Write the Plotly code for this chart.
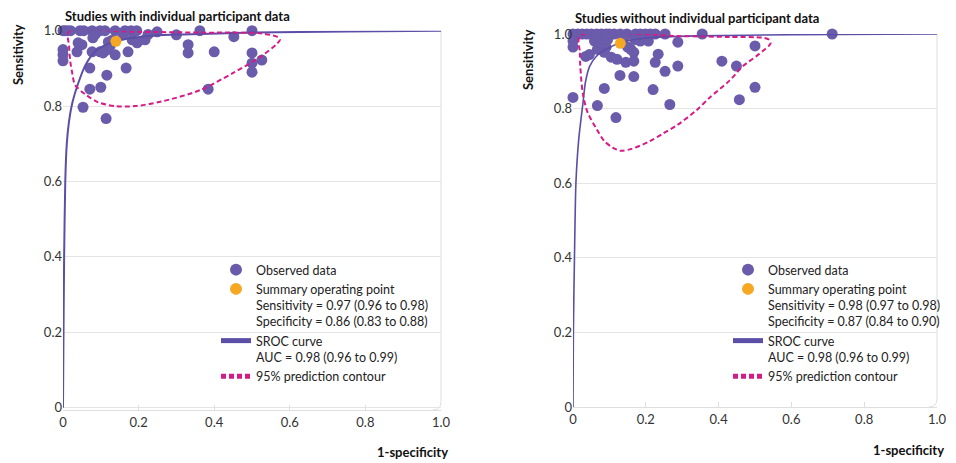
import plotly.graph_objects as go

# ---------------- data ----------------
# Left panel: studies with individual participant data (1-specificity, sensitivity)
left_fpr = [0.000, 0.005, 0.012, 0.045, 0.055, 0.077, 0.098, 0.111, 0.138, 0.164, 0.180, 0.195,
            0.249, 0.362, 0.500, 0.300, 0.452, 0.000, 0.000, 0.000, 0.040, 0.050, 0.037, 0.079,
            0.077, 0.098, 0.106, 0.116, 0.125, 0.138, 0.159, 0.172, 0.183, 0.196, 0.217, 0.331,
            0.331, 0.400, 0.500, 0.500, 0.500, 0.526, 0.071, 0.116, 0.167, 0.071, 0.100, 0.384,
            0.053, 0.114, 0.085, 0.130, 0.120, 0.225, 0.020]
left_sens = [1.000, 1.000, 1.000, 1.000, 1.000, 1.000, 1.000, 1.000, 1.000, 1.000, 1.000, 1.000,
             0.997, 1.000, 1.000, 0.989, 0.984, 0.950, 0.936, 0.920, 0.968, 0.963, 0.944, 0.981,
             0.944, 0.944, 0.941, 0.949, 0.960, 0.936, 0.989, 0.944, 0.976, 0.968, 0.976, 0.963,
             0.941, 0.944, 0.941, 0.914, 0.890, 0.922, 0.901, 0.882, 0.901, 0.845, 0.850, 0.845,
             0.797, 0.767, 0.990, 0.975, 0.970, 0.990, 1.000]

# Right panel: studies without individual participant data
right_fpr = [0.000, 0.013, 0.025, 0.038, 0.050, 0.065, 0.078, 0.091, 0.113, 0.148, 0.172, 0.185,
             0.199, 0.212, 0.226, 0.253, 0.355, 0.712, 0.100, 0.130, 0.000, 0.000, 0.035, 0.045,
             0.059, 0.067, 0.078, 0.086, 0.091, 0.105, 0.121, 0.145, 0.159, 0.167, 0.167, 0.185,
             0.207, 0.234, 0.226, 0.253, 0.288, 0.288, 0.409, 0.449, 0.500, 0.500, 0.457, 0.266,
             0.220, 0.167, 0.129, 0.086, 0.067, 0.118, 0.000, 0.140, 0.170, 0.095, 0.150]
right_sens = [1.000, 1.000, 1.000, 1.000, 1.000, 1.000, 1.000, 1.000, 1.000, 1.000, 1.000, 1.000,
              1.000, 1.000, 1.000, 1.000, 1.000, 1.000, 1.000, 1.000, 0.981, 0.965, 0.940, 0.945,
              0.981, 0.959, 0.973, 0.951, 0.965, 0.938, 0.932, 0.924, 0.959, 0.951, 0.927, 0.981,
              0.981, 0.946, 0.924, 0.900, 0.978, 0.914, 0.927, 0.914, 0.968, 0.857, 0.824, 0.811,
              0.851, 0.886, 0.889, 0.854, 0.808, 0.776, 0.830, 0.990, 0.985, 0.985, 0.965]

# Summary operating points
left_summary = (0.14, 0.972)
right_summary = (0.13, 0.975)

# SROC curves
left_sroc_x = [0.0, 0.001, 0.003, 0.006, 0.010, 0.016, 0.025, 0.040, 0.060, 0.085,
               0.119, 0.172, 0.243, 0.317, 0.500, 0.750, 1.000]
left_sroc_y = [0.0, 0.15, 0.40, 0.60, 0.70, 0.76, 0.81, 0.86, 0.91, 0.945,
               0.965, 0.979, 0.987, 0.990, 0.995, 0.998, 1.000]
right_sroc_x = [0.0, 0.001, 0.004, 0.008, 0.016, 0.028, 0.034, 0.046, 0.065, 0.091, 0.134,
                0.207, 0.341, 0.600, 1.000]
right_sroc_y = [0.0, 0.20, 0.40, 0.60, 0.72, 0.82, 0.87, 0.914, 0.941, 0.959, 0.978,
                0.990, 0.995, 0.998, 1.000]

# 95% prediction contours
left_cont_x = [0.015, 0.016, 0.019, 0.024, 0.032, 0.058, 0.093, 0.138, 0.190, 0.260, 0.362,
               0.450, 0.521, 0.566, 0.574, 0.566, 0.521, 0.362, 0.185, 0.015]
left_cont_y = [0.997, 0.960, 0.920, 0.890, 0.856, 0.832, 0.810, 0.800, 0.800, 0.812, 0.842,
               0.888, 0.930, 0.965, 0.976, 0.984, 0.993, 0.995, 0.997, 0.997]
right_cont_x = [0.019, 0.019, 0.020, 0.027, 0.040, 0.065, 0.086, 0.110, 0.130, 0.161, 0.210,
                0.247, 0.288, 0.341, 0.376, 0.430, 0.468, 0.503, 0.522, 0.538, 0.543, 0.538,
                0.522, 0.430, 0.300, 0.019]
right_cont_y = [0.995, 0.950, 0.914, 0.840, 0.790, 0.745, 0.713, 0.695, 0.687, 0.692, 0.712,
                0.733, 0.757, 0.797, 0.830, 0.875, 0.915, 0.940, 0.955, 0.968, 0.976, 0.985,
                0.990, 0.992, 0.994, 0.995]

titles = ["Studies with individual participant data", "Studies without individual participant data"]
summary_labels = [
    "Summary operating point<br>Sensitivity = 0.97 (0.96 to 0.98)<br>Specificity = 0.86 (0.83 to 0.88)",
    "Summary operating point<br>Sensitivity = 0.98 (0.97 to 0.98)<br>Specificity = 0.87 (0.84 to 0.90)",
]
sroc_labels = ["SROC curve<br>AUC = 0.98 (0.96 to 0.99)", "SROC curve<br>AUC = 0.98 (0.96 to 0.99)"]
x_ticks = [0, 0.2, 0.4, 0.6, 0.8, 1.0]
x_ticktext = ["0", "0.2", "0.4", "0.6", "0.8", "1.0"]
y_ticks = [0, 0.2, 0.4, 0.6, 0.8, 1.0]
y_ticktext = ["0", "0.2", "0.4", "0.6", "0.8", "1.0"]

# ---------------- style ----------------
FONT = "Lato"
PURPLE = "#6a5bab"
LINE = "#5a4ea6"
ORANGE = "#f7a823"
MAGENTA = "#d41c86"
GRID = "#e4e4e4"
OFF = 8                          # page body margin of the html page
W, H = 956 - 2 * OFF, 463 - OFF  # figure fits inside the page body

fig = go.Figure()

panels = [
    dict(fx=left_fpr, fy=left_sens, s=left_summary, sx=left_sroc_x, sy=left_sroc_y,
         cx=left_cont_x, cy=left_cont_y, xa="x", ya="y", lg="legend"),
    dict(fx=right_fpr, fy=right_sens, s=right_summary, sx=right_sroc_x, sy=right_sroc_y,
         cx=right_cont_x, cy=right_cont_y, xa="x2", ya="y2", lg="legend2"),
]
for i, p in enumerate(panels):
    fig.add_trace(go.Scatter(x=p["fx"], y=p["fy"], mode="markers", name="Observed data",
                             marker=dict(color=PURPLE, size=11, line=dict(width=0)),
                             xaxis=p["xa"], yaxis=p["ya"], legend=p["lg"], legendrank=1,
                             cliponaxis=False))
    fig.add_trace(go.Scatter(x=p["sx"], y=p["sy"], mode="lines", name=sroc_labels[i],
                             line=dict(color=LINE, width=2 if i == 0 else 1.6, shape="spline", smoothing=0.6),
                             xaxis=p["xa"], yaxis=p["ya"], legend=p["lg"], legendrank=3,
                             cliponaxis=False))
    fig.add_trace(go.Scatter(x=p["cx"], y=p["cy"], mode="lines", name="95% prediction contour",
                             line=dict(color=MAGENTA, width=2, dash="5px,3px", shape="spline", smoothing=0.8),
                             xaxis=p["xa"], yaxis=p["ya"], legend=p["lg"], legendrank=4,
                             cliponaxis=False))
    fig.add_trace(go.Scatter(x=[p["s"][0]], y=[p["s"][1]], mode="markers", name=summary_labels[i],
                             marker=dict(color=ORANGE, size=11, line=dict(width=0)),
                             xaxis=p["xa"], yaxis=p["ya"], legend=p["lg"], legendrank=2,
                             cliponaxis=False))

# screen pixel -> paper fraction (figure is drawn at an 8px offset in the page)
def px_x(v):
    return (v - OFF) / W

def px_y(v):
    return (H - (v - OFF)) / H

axis_common_x = dict(range=[0, 1], tickvals=x_ticks, ticktext=x_ticktext, showgrid=False,
                     zeroline=False, showline=True, linecolor="#dedede", linewidth=1,
                     ticks="inside", ticklen=5, tickcolor="#dedede", automargin=False,
                     tickfont=dict(family=FONT, size=13, color="#333"), fixedrange=True)
axis_common_y = dict(tickvals=y_ticks, ticktext=y_ticktext, showgrid=True, gridcolor=GRID,
                     zeroline=False, showline=False, ticks="", automargin=False,
                     tickfont=dict(family=FONT, size=13, color="#333"), fixedrange=True)

fig.update_layout(
    template="none",
    width=W, height=H,
    margin=dict(l=0, r=0, t=0, b=0, pad=0, autoexpand=False),
    paper_bgcolor="white", plot_bgcolor="white",
    font=dict(family=FONT, size=12, color="#222"),
    xaxis=dict(domain=[px_x(63), px_x(441)], anchor="y", **axis_common_x),
    yaxis=dict(domain=[px_y(410), px_y(30.7)], range=[-0.006, 1.0], anchor="x", **axis_common_y),
    xaxis2=dict(domain=[px_x(573), px_x(937)], anchor="y2", **axis_common_x),
    yaxis2=dict(domain=[px_y(407), px_y(34)], range=[0.0, 1.0], anchor="x2", **axis_common_y),
    legend=dict(x=px_x(216), y=px_y(255), xanchor="left", yanchor="top", valign="top",
                bgcolor="rgba(0,0,0,0)", font=dict(family=FONT, size=12.5, color="#222"),
                tracegroupgap=0, itemsizing="constant", borderwidth=0),
    legend2=dict(x=px_x(728), y=px_y(255), xanchor="left", yanchor="top", valign="top",
                 bgcolor="rgba(0,0,0,0)", font=dict(family=FONT, size=12.5, color="#222"),
                 tracegroupgap=0, itemsizing="constant", borderwidth=0),
)

# right-hand frame edges with rounded corner
for xd, yd in [("x domain", "y domain"), ("x2 domain", "y2 domain")]:
    fig.add_shape(type="path", xref=xd, yref=yd,
                  path="M 1,1 L 1,0.022 Q 1,0 0.978,0",
                  line=dict(color="#dedede", width=1), layer="below")

annotations = [
    dict(text="<b>" + titles[0] + "</b>", x=px_x(63), y=px_y(16), xanchor="left", yanchor="middle"),
    dict(text="<b>" + titles[1] + "</b>", x=px_x(573), y=px_y(17.5), xanchor="left", yanchor="middle"),
    dict(text="<b>Sensitivity</b>", x=px_x(18), y=px_y(55), xanchor="center", yanchor="middle", textangle=-90),
    dict(text="<b>Sensitivity</b>", x=px_x(528), y=px_y(60), xanchor="center", yanchor="middle", textangle=-90),
    dict(text="<b>1-specificity</b>", x=px_x(450), y=px_y(452), xanchor="right", yanchor="middle"),
    dict(text="<b>1-specificity</b>", x=px_x(946), y=px_y(450), xanchor="right", yanchor="middle"),
]
for a in annotations:
    fig.add_annotation(xref="paper", yref="paper", showarrow=False,
                       font=dict(family=FONT, size=13, color="#111"), **a)

fig.write_html("out.html")
